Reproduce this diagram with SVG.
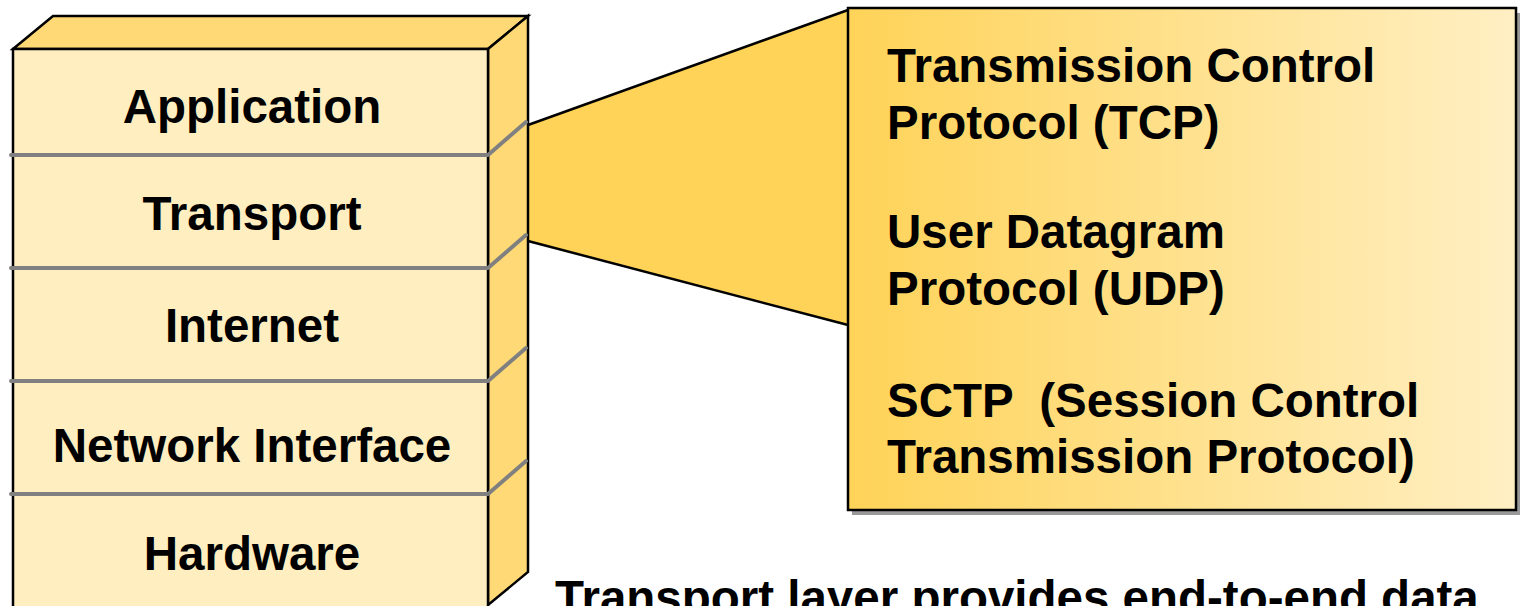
<svg xmlns="http://www.w3.org/2000/svg" width="1521" height="606" viewBox="0 0 1521 606">
<style>
.lbl{font-family:"Liberation Sans",Arial,sans-serif;font-weight:bold;font-size:47.5px;fill:#000}
.mid{text-anchor:middle}
.edge{stroke:#000;stroke-width:2.5;stroke-linejoin:miter}
.sep{fill:none;stroke:#808080;stroke-width:4;stroke-linecap:round;stroke-linejoin:round}
</style>
<defs>
<linearGradient id="boxg" x1="0" y1="0" x2="1" y2="0">
<stop offset="0" stop-color="#FFD358"/>
<stop offset="1" stop-color="#FFEFC3"/>
</linearGradient>
</defs>
<rect width="1521" height="606" fill="#fff"/>
<g id="zoom-callout">
<polygon points="528,125 848,10 848,325 528,241" fill="#FFD357"/>
<line x1="528" y1="125" x2="848" y2="10" stroke="#000" stroke-width="2.5"/>
<line x1="528" y1="241" x2="848" y2="325" stroke="#000" stroke-width="2.5"/>
</g>
<g id="stack">
<polygon class="edge" points="13,49 53,16 528,16 488,49" fill="#FFD975"/>
<polygon class="edge" points="488,49 528,16 528,572 488,605" fill="#FFD975"/>
<rect class="edge" x="13" y="49" width="475" height="570" fill="#FFEEC0"/>
</g>
<g id="separators">
<polyline class="sep" points="11,155 488,155 526,122"/>
<polyline class="sep" points="11,268 488,268 526,235"/>
<polyline class="sep" points="11,381 488,381 526,348"/>
<polyline class="sep" points="11,494 488,494 526,461"/>
</g>
<g id="layer-application"><text class="lbl mid" x="252" y="123">Application</text></g>
<g id="layer-transport"><text class="lbl mid" x="252" y="230">Transport</text></g>
<g id="layer-internet"><text class="lbl mid" x="252" y="342">Internet</text></g>
<g id="layer-network-interface"><text class="lbl mid" x="252" y="462">Network Interface</text></g>
<g id="layer-hardware"><text class="lbl mid" x="252" y="570">Hardware</text></g>
<g id="protocol-box">
<rect x="852" y="13" width="668" height="502" fill="#999"/>
<rect x="848" y="8" width="668" height="502" fill="url(#boxg)" stroke="#000" stroke-width="2.5"/>
<text class="lbl" x="887" y="82">Transmission Control</text>
<text class="lbl" x="887" y="139">Protocol (TCP)</text>
<text class="lbl" x="887" y="248">User Datagram</text>
<text class="lbl" x="887" y="305">Protocol (UDP)</text>
<text class="lbl" x="887" y="417" xml:space="preserve">SCTP  (Session Control</text>
<text class="lbl" x="887" y="473">Transmission Protocol)</text>
</g>
<g id="caption"><text class="lbl" x="555" y="614">Transport layer provides end-to-end data</text></g>
</svg>
